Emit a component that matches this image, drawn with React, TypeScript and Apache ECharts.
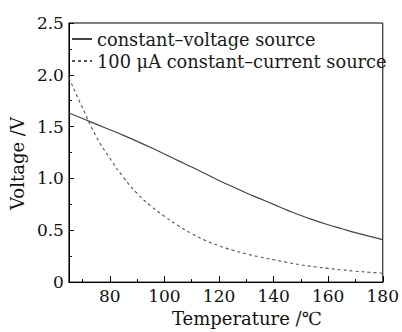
import React, { useEffect, useRef } from "react";
import * as echarts from "echarts";

const temperatures = [65, 70, 75, 80, 85, 90, 95, 100, 105, 110, 115, 120, 125, 130, 135, 140, 145, 150, 155, 160, 165, 170, 175, 180];
const voltageSource = [1.632, 1.578, 1.524, 1.47, 1.416, 1.358, 1.298, 1.236, 1.172, 1.11, 1.045, 0.98, 0.92, 0.86, 0.805, 0.75, 0.695, 0.642, 0.595, 0.553, 0.515, 0.477, 0.443, 0.41];
const currentSource = [1.97, 1.68, 1.405, 1.195, 1.01, 0.855, 0.735, 0.635, 0.545, 0.467, 0.402, 0.35, 0.308, 0.272, 0.242, 0.215, 0.19, 0.166, 0.148, 0.132, 0.118, 0.105, 0.095, 0.085];
const seriesNames = ["constant\u2013voltage source", "100 \u03bcA constant\u2013current source"];
const xMajorTicks = [80, 100, 120, 140, 160, 180];
const xMinorTicks = [70, 90, 110, 130, 150, 170];

const FONT = "DejaVu Serif";

export default function App() {
  const ref = useRef<HTMLDivElement>(null);
  useEffect(() => {
    if (!ref.current) return;
    const chart = echarts.init(ref.current, null, { renderer: "svg" });
    const pairs = (vals: number[]) => temperatures.map((t, i) => [t, vals[i]]);
    chart.setOption({
      animation: false,
      backgroundColor: "#ffffff",
      textStyle: { fontFamily: FONT },
      grid: {
        left: 62,
        right: 13,
        top: 23,
        bottom: 43,
        show: true,
        borderColor: "#000",
        borderWidth: 1,
        backgroundColor: "transparent",
      },
      legend: {
        orient: "vertical",
        left: 71,
        top: 30,
        padding: 0,
        itemGap: 4,
        itemWidth: 20,
        itemHeight: 14,
        data: seriesNames,
        itemStyle: { opacity: 0 },
        textStyle: { fontFamily: FONT, fontSize: 17.8, color: "#1a1a1a", padding: [0, 0, 6, 0] },
      },
      xAxis: [
        {
          type: "value",
          min: 65,
          max: 180,
          name: "Temperature /\u2103",
          nameLocation: "middle",
          nameGap: 22,
          nameTextStyle: { fontFamily: FONT, fontSize: 18, color: "#111", padding: [0, 0, 0, 42] },
          axisLine: { show: true, lineStyle: { color: "#000", width: 1 } },
          axisTick: { show: true, inside: true, length: 6, customValues: xMajorTicks, lineStyle: { color: "#000" } },
          axisLabel: { customValues: xMajorTicks, fontFamily: FONT, fontSize: 17, color: "#111", margin: 5 },
          splitLine: { show: false },
        },
        {
          type: "value",
          min: 65,
          max: 180,
          position: "bottom",
          axisLine: { show: false },
          axisTick: { show: true, inside: true, length: 3, customValues: xMinorTicks, lineStyle: { color: "#000" } },
          axisLabel: { show: false },
          splitLine: { show: false },
        },
      ],
      yAxis: {
        type: "value",
        min: 0,
        max: 2.5,
        interval: 0.5,
        name: "Voltage /V",
        nameLocation: "middle",
        nameGap: 42,
        nameTextStyle: { fontFamily: FONT, fontSize: 18, color: "#111", padding: [0, 22, 0, 0] },
        axisLine: { show: true, lineStyle: { color: "#000", width: 1 } },
        axisTick: { show: true, inside: true, length: 5, lineStyle: { color: "#000" } },
        minorTick: { show: true, splitNumber: 2, length: 3, lineStyle: { color: "#000" } },
        axisLabel: {
          fontFamily: FONT,
          fontSize: 17,
          color: "#111",
          margin: 5,
          formatter: (v: number) => (v === 0 ? "0" : v.toFixed(1)),
        },
        splitLine: { show: false },
      },
      series: [
        {
          name: seriesNames[0],
          type: "line",
          xAxisIndex: 0,
          data: pairs(voltageSource),
          smooth: true,
          symbol: "none",
          lineStyle: { color: "#444", width: 1.2, type: "solid" },
          itemStyle: { color: "#444" },
        },
        {
          name: seriesNames[1],
          type: "line",
          xAxisIndex: 0,
          data: pairs(currentSource),
          smooth: true,
          symbol: "none",
          lineStyle: { color: "#555", width: 1.1, type: [3, 3] },
          itemStyle: { color: "#555" },
        },
      ],
    });
    return () => chart.dispose();
  }, []);
  return <div ref={ref} style={{ width: 402, height: 332, position: "absolute", left: 0, top: 0 }} />;
}
